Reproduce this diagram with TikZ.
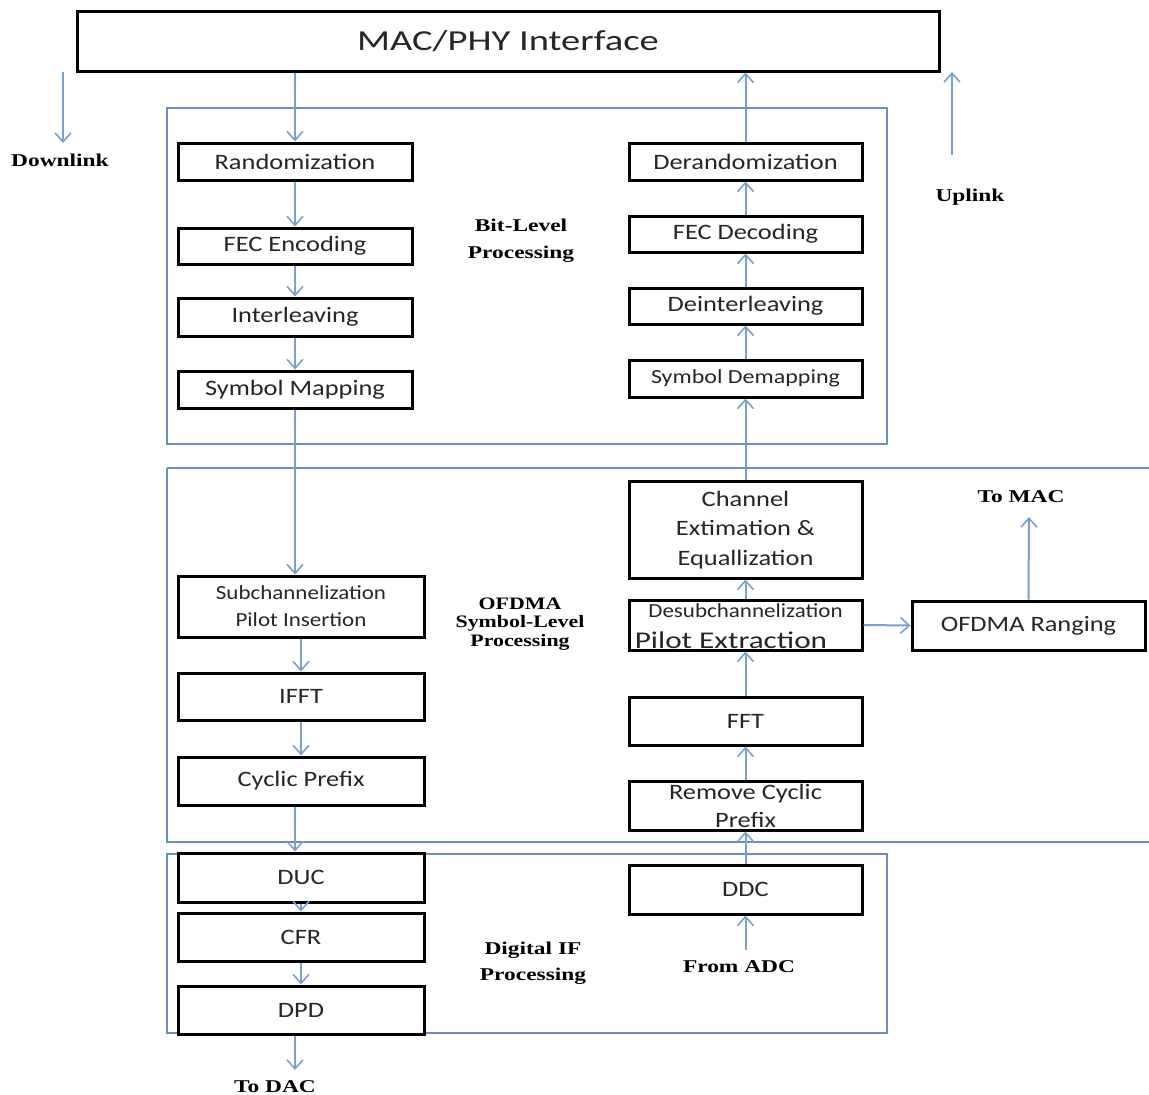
\documentclass[tikz,border=0pt]{standalone}
\usepackage{fontspec}
\setmainfont{Carlito}
\newfontfamily\lblfont{Liberation Serif}
\usetikzlibrary{arrows.meta}
\definecolor{grpblue}{RGB}{104,142,196}
\definecolor{arrblue}{RGB}{122,160,208}
\newcommand{\hs}[2][1.2]{\scalebox{#1}[1]{#2}}
\begin{document}
\begin{tikzpicture}[x=1pt,y=-1pt,
 blk/.style={draw=black, line width=3pt, fill=white, inner sep=0pt, text=black!85, font=\fontsize{22}{26}\selectfont},
 txt/.style={inner sep=0pt, align=center, text=black!85},
 grp/.style={draw=grpblue, line width=2pt},
 arr/.style={draw=arrblue, line width=2pt, -{Straight Barb[length=9pt,width=16pt,line width=1.6pt]}},
 lbl/.style={font=\lblfont\bfseries\fontsize{18}{21}\selectfont, align=center, inner sep=0pt, text=black},
]
\useasboundingbox (0,0) rectangle (1149,1095);
% groups
\draw[grp] (167,108) rectangle (887,444);
\draw[grp] (167,468) -- (1160,468) (167,468) -- (167,842) -- (1160,842);
\draw[grp] (167,854) rectangle (887,1033);
% MAC
\node[blk, minimum width=862, minimum height=60] (mac) at (508,41) {\fontsize{29}{34}\selectfont\hs[1.33]{MAC/PHY Interface}};
% bit-level downlink
\node[blk, minimum width=234, minimum height=37] (rnd) at (295,161.5) {\hs{Randomization}};
\node[blk, minimum width=234, minimum height=36] (fec) at (295,246) {\hs{FEC Encoding}};
\node[blk, minimum width=234, minimum height=38] (intl) at (295,317) {\hs{Interleaving}};
\node[blk, minimum width=234, minimum height=37] (sym) at (295,389.5) {\hs{Symbol Mapping}};
% bit-level uplink
\node[blk, minimum width=233, minimum height=37] (der) at (745.5,161.5) {\hs{Derandomization}};
\node[blk, minimum width=233, minimum height=36] (fecd) at (745.5,234) {\hs{FEC Decoding}};
\node[blk, minimum width=233, minimum height=36] (deint) at (745.5,306) {\hs{Deinterleaving}};
\node[blk, minimum width=233, minimum height=37] (symd) at (745.5,378.5) {\fontsize{20}{24}\selectfont\hs{Symbol Demapping}};
% OFDMA downlink
\node[blk, minimum width=246, minimum height=61] (sub) at (301,606.5) {};
\node[txt, font=\fontsize{20}{27}\selectfont] (subT) at (301,606) {\hs[1.15]{Subchannelization}\\\hs[1.15]{Pilot Insertion}};
\node[blk, minimum width=246, minimum height=47] (ifft) at (301,696.5) {\hs{IFFT}};
\node[blk, minimum width=246, minimum height=48] (cp) at (301,781) {\hs{Cyclic Prefix}};
% OFDMA uplink
\node[blk, minimum width=233, minimum height=97] (chan) at (745.5,529.5) {};
\node[txt, font=\fontsize{22}{29.5}\selectfont] (chanT) at (745.5,530) {\hs{Channel}\\\hs{Extimation \&}\\\hs{Equallization}};
\node[blk, minimum width=233, minimum height=50] (desub) at (745.5,625) {};
\node[txt, font=\fontsize{20}{28}\selectfont] (desubT) at (745.5,611) {\hs[1.15]{Desubchannelization}};
\node[txt, font=\fontsize{24}{28}\selectfont] (desubT2) at (731,640) {\hs[1.3]{Pilot Extraction}};
\node[blk, minimum width=233, minimum height=49] (rang) at (1028.5,625.5) {\hs{OFDMA Ranging}};
\node[blk, minimum width=233, minimum height=48] (fft) at (745.5,721) {\hs{FFT}};
\node[blk, minimum width=233, minimum height=49] (rcp) at (745.5,805.5) {};
\node[txt, font=\fontsize{22}{28}\selectfont] (rcpT) at (745.5,806) {\hs{Remove Cyclic}\\\hs{Prefix}};
% Digital IF
\node[blk, minimum width=246, minimum height=49] (duc) at (301,877.5) {\hs{DUC}};
\node[blk, minimum width=246, minimum height=48] (cfr) at (301,937) {\hs{CFR}};
\node[blk, minimum width=246, minimum height=48] (dpd) at (301,1010) {\hs{DPD}};
\node[blk, minimum width=233, minimum height=49] (ddc) at (745.5,889.5) {\hs{DDC}};
% labels
\node[lbl] (dl) at (60,160) {\hs[1.3]{Downlink}};
\node[lbl] (ul) at (970,197) {\hs[1.3]{Uplink}};
\node[lbl, font=\lblfont\bfseries\fontsize{18}{27}\selectfont] (bitl) at (521,240.5) {\hs[1.3]{Bit-Level}\\\hs[1.3]{Processing}};
\node[lbl, font=\lblfont\bfseries\fontsize{17.5}{18.5}\selectfont] (ofl) at (520,624) {\hs[1.25]{OFDMA}\\\hs[1.25]{Symbol-Level}\\\hs[1.25]{Processing}};
\node[lbl, font=\lblfont\bfseries\fontsize{18}{26}\selectfont] (difl) at (533,963) {\hs[1.3]{Digital IF}\\\hs[1.3]{Processing}};
\node[lbl] (tomac) at (1021,497) {\hs[1.3]{To MAC}};
\node[lbl] (fadc) at (739,967) {\hs[1.3]{From ADC}};
\node[lbl] (todac) at (275,1087) {\hs[1.3]{To DAC}};
% free ends
\coordinate (dlS) at (63,72);
\coordinate (dlE) at (63,143);
\coordinate (ulS) at (952,155);
\coordinate (ulE) at (952,72);
\coordinate (macE) at (1029,517);
\coordinate (adcS) at (745.5,950);
\coordinate (dacE) at (295,1070);
% arrows downlink
\draw[arr] (dlS) -- (dlE);
\draw[arr] (ulS) -- (ulE);
\draw[arr] (rnd.north |- mac.south) -- (rnd.north);
\draw[arr] (rnd.south) -- (fec.north);
\draw[arr] (fec.south) -- (intl.north);
\draw[arr] (intl.south) -- (sym.north);
\draw[arr] (sym.south) -- (sym.south |- sub.north);
\draw[arr] (sub.south) -- (ifft.north);
\draw[arr] (ifft.south) -- (cp.north);
\draw[arr] (sym.south |- cp.south) -- (sym.south |- duc.north);
\draw[arr] (duc.south) -- (cfr.north);
\draw[arr] (cfr.south) -- (dpd.north);
\draw[arr] (sym.south |- dpd.south) -- (dacE);
% arrows uplink
\draw[arr] (adcS) -- (ddc.south);
\draw[arr] (ddc.north) -- (rcp.south);
\draw[arr] (rcp.north) -- (fft.south);
\draw[arr] (fft.north) -- (desub.south);
\draw[arr] (desub.north) -- (chan.south);
\draw[arr] (chan.north) -- (symd.south);
\draw[arr] (symd.north) -- (deint.south);
\draw[arr] (deint.north) -- (fecd.south);
\draw[arr] (fecd.north) -- (der.south);
\draw[arr] (der.north) -- (der.north |- mac.south);
\draw[arr] (desub.east) -- (rang.west);
\draw[arr] (rang.north) -- (macE);
\end{tikzpicture}
\end{document}
